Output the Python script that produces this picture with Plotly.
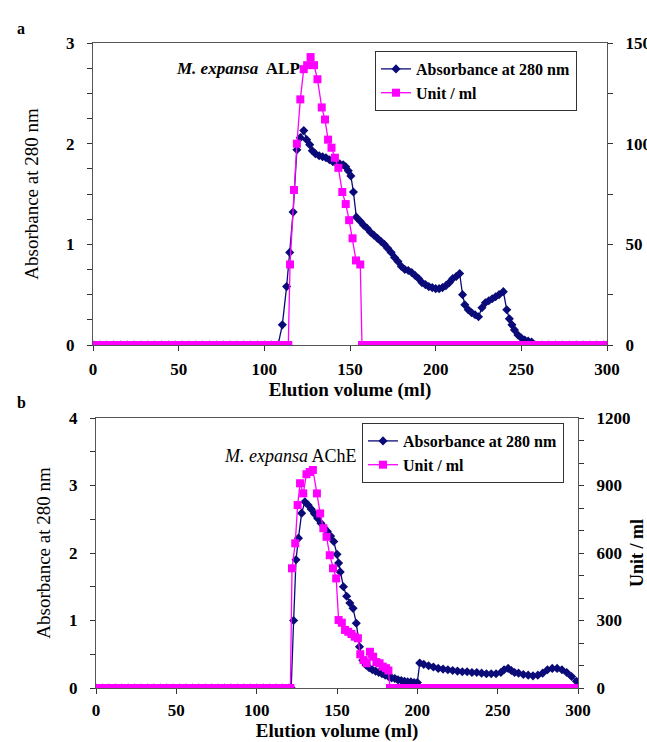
import plotly.graph_objects as go

# ---------------- Panel a: M. expansa ALP ----------------
alp_abs_ml = [0, 4, 8, 12, 16, 20, 24, 28, 32, 36, 40, 44, 48, 52, 56, 60, 64, 68, 72, 76,
              80, 84, 88, 92, 96, 100, 104, 108,
              110.5, 113, 114.8, 116.8, 119, 121, 123, 124.7, 126.5, 128, 129.8, 132, 134,
              136, 138, 140, 142, 144, 146, 147.5, 149, 150.5, 152, 153.7, 156, 158, 160,
              162, 164, 166, 168, 170, 172, 174, 176, 178, 180, 182, 184, 186, 188, 190,
              192, 194, 196, 198, 200, 202, 204, 206, 208, 210, 212, 214, 215.7, 217, 219,
              221, 223, 225, 227, 229, 231, 233, 235, 237, 239.5, 241.5, 243, 244.5, 246,
              248, 250, 252, 254, 256,
              258, 262, 266, 270, 274, 278, 282, 286, 290, 294, 298, 300]
alp_abs = [0, 0, 0, 0, 0, 0, 0, 0, 0, 0, 0, 0, 0, 0, 0, 0, 0, 0, 0, 0,
           0, 0, 0, 0, 0, 0, 0, 0,
           0.2, 0.58, 0.92, 1.32, 1.94, 2.06, 2.13, 2.04, 1.99, 1.93, 1.90, 1.88, 1.87,
           1.86, 1.84, 1.82, 1.81, 1.80, 1.79, 1.77, 1.73, 1.68, 1.52, 1.27, 1.23, 1.19, 1.16,
           1.12, 1.09, 1.06, 1.03, 1.00, 0.96, 0.92, 0.87, 0.83, 0.78, 0.75, 0.74, 0.72, 0.69, 0.66,
           0.62, 0.60, 0.58, 0.57, 0.56, 0.56, 0.57, 0.59, 0.62, 0.66, 0.68, 0.71, 0.50, 0.40, 0.35,
           0.32, 0.30, 0.28, 0.37, 0.42, 0.44, 0.46, 0.48, 0.50, 0.53, 0.35, 0.26, 0.20, 0.15,
           0.10, 0.07, 0.05, 0.04, 0.03,
           0, 0, 0, 0, 0, 0, 0, 0, 0, 0, 0, 0]

alp_unit_ml = [0, 4, 8, 12, 16, 20, 24, 28, 32, 36, 40, 44, 48, 52, 56, 60, 64, 68, 72, 76,
               80, 84, 88, 92, 96, 100, 104, 108, 112, 114,
               115, 117.3, 119, 121, 123, 125, 127, 129, 131, 133.5, 135.4, 137.2, 139.2,
               141.2, 143.2, 145.5, 147.5, 149.5, 151.5, 153.5, 156,
               157, 160, 164, 168, 172, 176, 180, 184, 188, 192, 196, 200, 204, 208, 212, 216,
               220, 224, 228, 232, 236, 240, 244, 248, 252, 256, 260, 264, 268, 272, 276, 280,
               284, 288, 292, 296, 300]
alp_unit = [0, 0, 0, 0, 0, 0, 0, 0, 0, 0, 0, 0, 0, 0, 0, 0, 0, 0, 0, 0,
            0, 0, 0, 0, 0, 0, 0, 0, 0, 0,
            40, 77, 100, 122, 137, 139, 143, 139, 132, 118, 112, 102, 98,
            93, 88, 76, 70, 62, 53, 42, 40,
            0, 0, 0, 0, 0, 0, 0, 0, 0, 0, 0, 0, 0, 0, 0, 0,
            0, 0, 0, 0, 0, 0, 0, 0, 0, 0, 0, 0, 0, 0, 0, 0,
            0, 0, 0, 0, 0]

# ---------------- Panel b: M. expansa AChE ----------------
ache_abs_ml = [0, 4, 8, 12, 16, 20, 24, 28, 32, 36, 40, 44, 48, 52, 56, 60, 64, 68, 72, 76,
               80, 84, 88, 92, 96, 100, 104, 108, 112, 116, 120, 121.5,
               123, 124.5, 126, 128, 130, 132, 134, 136, 138, 140, 142, 144, 146, 148, 150,
               151, 152, 154, 156, 158, 160, 162, 164, 166, 168, 170, 172, 174, 176, 178,
               180, 182, 184, 186, 188, 190, 192, 194, 196, 198, 200,
               201.5, 204, 207, 210, 213, 216, 219, 222, 225, 228, 231, 234, 237, 240, 243,
               246, 249, 252, 254, 256.5, 258.5, 260.5, 263, 266, 269, 272, 275, 278, 281,
               284, 287, 290, 293, 296, 299]
ache_abs = [0, 0, 0, 0, 0, 0, 0, 0, 0, 0, 0, 0, 0, 0, 0, 0, 0, 0, 0, 0,
            0, 0, 0, 0, 0, 0, 0, 0, 0, 0, 0, 0,
            1.0, 1.9, 2.22, 2.59, 2.76, 2.71, 2.65, 2.58, 2.51, 2.44, 2.37, 2.32, 2.25, 2.17, 1.98,
            1.85, 1.72, 1.50, 1.36, 1.26, 1.18, 0.96, 0.61, 0.41, 0.34, 0.30, 0.27, 0.25, 0.23, 0.21,
            0.19, 0.17, 0.15, 0.14, 0.12, 0.11, 0.10, 0.09, 0.09, 0.08, 0.08,
            0.37, 0.35, 0.33, 0.31, 0.29, 0.28, 0.27, 0.26, 0.25, 0.24, 0.24, 0.23, 0.23, 0.22, 0.21,
            0.21, 0.21, 0.23, 0.27, 0.29, 0.26, 0.23, 0.22, 0.20, 0.19, 0.18, 0.19, 0.22, 0.27,
            0.29, 0.29, 0.27, 0.23, 0.17, 0.10]

ache_unit_ml = [0, 4, 8, 12, 16, 20, 24, 28, 32, 36, 40, 44, 48, 52, 56, 60, 64, 68, 72, 76,
                80, 84, 88, 92, 96, 100, 104, 108, 112, 116, 120, 121,
                122, 124, 125.5, 127, 129, 131, 133, 135, 137.5, 139.5, 141.5, 143.5, 145.5,
                147.5, 149.5, 151, 153, 155, 157, 159, 161, 163, 164.5, 166.5, 168.5, 170.5,
                172.5, 174.5, 176.5, 178.5, 180.5, 182,
                183, 186, 190, 194, 198, 202, 206, 210, 214, 218, 222, 226, 230, 234, 238, 242,
                246, 250, 254, 258, 262, 266, 270, 274, 278, 282, 286, 290, 294, 298, 300]
ache_unit = [0, 0, 0, 0, 0, 0, 0, 0, 0, 0, 0, 0, 0, 0, 0, 0, 0, 0, 0, 0,
             0, 0, 0, 0, 0, 0, 0, 0, 0, 0, 0, 0,
             532, 643, 813, 910, 865, 950, 960, 969, 865, 776, 710, 672, 590,
             532, 487, 302, 290, 258, 250, 240, 228, 221, 150, 124, 110, 161,
             139, 115, 110, 95, 88, 78,
             0, 0, 0, 0, 0, 0, 0, 0, 0, 0, 0, 0, 0, 0, 0, 0,
             0, 0, 0, 0, 0, 0, 0, 0, 0, 0, 0, 0, 0, 0, 0]

x_ticks = [0, 50, 100, 150, 200, 250, 300]

NAVY = "#0a0a78"
MAGENTA = "#ff00ff"
FONT = "Liberation Serif"
W, H = 647, 742

fig = go.Figure()


def px_x(p):
    return p / W


def px_y(p):
    return 1 - p / H


panels = [
    dict(x="x", y="y", y2="y2", xi="x3", yi="y5", y2i="y6", legend="legend",
         box=(93, 607, 43, 345), lrange=3, ldt=1, lminor=0.25,
         rrange=150, rdt=50, rminor=25, rtitle="",
         abs_x=alp_abs_ml, abs_y=alp_abs, unit_x=alp_unit_ml, unit_y=alp_unit,
         ytitle_standoff=22, xtitle_standoff=0, xlabel_standoff=4),
    dict(x="x2", y="y3", y2="y4", xi="x4", yi="y7", y2i="y8", legend="legend2",
         box=(96, 578, 418, 688), lrange=4, ldt=1, lminor=0.5,
         rrange=1200, rdt=300, rminor=100, rtitle="<b>Unit / ml</b>",
         abs_x=ache_abs_ml, abs_y=ache_abs, unit_x=ache_unit_ml, unit_y=ache_unit,
         ytitle_standoff=13, xtitle_standoff=12, xlabel_standoff=2),
]


def axname(s):
    return ("xaxis" if s[0] == "x" else "yaxis") + s[1:]


tick_font = dict(family=FONT, size=17, color="black", weight="bold")

for p in panels:
    fig.add_trace(go.Scatter(
        x=p["abs_x"], y=p["abs_y"], xaxis=p["x"], yaxis=p["y"], legend=p["legend"],
        mode="lines+markers", name="Absorbance at 280 nm",
        line=dict(color=NAVY, width=1.3),
        marker=dict(symbol="diamond", size=7, color=NAVY),
    ))
    fig.add_trace(go.Scatter(
        x=p["unit_x"], y=p["unit_y"], xaxis=p["x"], yaxis=p["y2"], legend=p["legend"],
        mode="lines+markers", name="Unit / ml",
        line=dict(color=MAGENTA, width=1.3),
        marker=dict(symbol="square", size=8, color=MAGENTA),
    ))

    l, r, t, b = p["box"]
    xd = [px_x(l), px_x(r)]
    yd = [px_y(b), px_y(t)]
    common = dict(showgrid=False, zeroline=False, tickcolor="#333", linecolor="#555",
                  linewidth=1, automargin=False)

    fig.layout[axname(p["x"])] = dict(
        domain=xd, anchor=p["y"], range=[0, 300], tickvals=x_ticks,
        ticks="outside", ticklen=5, showline=True, mirror=True,
        tickfont=tick_font, ticklabelstandoff=p["xlabel_standoff"],
        title=dict(text="<b>Elution volume (ml)</b>",
                   font=dict(family=FONT, size=19, color="black"),
                   standoff=p["xtitle_standoff"]),
        **common)
    fig.layout[axname(p["xi"])] = dict(
        overlaying=p["x"], anchor=p["y"], range=[0, 300], tickvals=x_ticks,
        ticks="inside", ticklen=5, showticklabels=False, showline=False, **common)

    fig.layout[axname(p["y"])] = dict(
        domain=yd, anchor=p["x"], range=[0, p["lrange"]], dtick=p["ldt"], tick0=0,
        ticks="outside", ticklen=5, showline=True,
        minor=dict(dtick=p["lminor"], ticks="outside", ticklen=5, tickcolor="#333"),
        tickfont=tick_font, ticklabelstandoff=9,
        title=dict(text="Absorbance at 280 nm",
                   font=dict(family=FONT, size=19, color="black"),
                   standoff=p["ytitle_standoff"]),
        **common)
    fig.layout[axname(p["yi"])] = dict(
        overlaying=p["y"], anchor=p["x"], side="left",
        range=[0, p["lrange"]], dtick=p["ldt"], tick0=0,
        ticks="inside", ticklen=5, showticklabels=False, showline=False,
        minor=dict(dtick=p["lminor"], ticks="inside", ticklen=5, tickcolor="#333"),
        **common)

    fig.layout[axname(p["y2"])] = dict(
        overlaying=p["y"], anchor=p["x"], side="right",
        range=[0, p["rrange"]], dtick=p["rdt"], tick0=0,
        ticks="outside", ticklen=5, showline=True,
        minor=dict(dtick=p["rminor"], ticks="outside", ticklen=5, tickcolor="#333"),
        tickfont=tick_font, ticklabelstandoff=9,
        title=dict(text=p["rtitle"],
                   font=dict(family=FONT, size=18, color="black"), standoff=16),
        **common)
    fig.layout[axname(p["y2i"])] = dict(
        overlaying=p["y"], anchor=p["x"], side="right",
        range=[0, p["rrange"]], dtick=p["rdt"], tick0=0,
        ticks="inside", ticklen=5, showticklabels=False, showline=False,
        minor=dict(dtick=p["rminor"], ticks="inside", ticklen=5, tickcolor="#333"),
        **common)

legend_style = dict(
    xanchor="left", yanchor="top", bgcolor="white", bordercolor="#333", borderwidth=1,
    font=dict(family=FONT, size=16, color="black", weight="bold"),
    tracegroupgap=0, itemwidth=30,
)
fig.update_layout(
    legend=dict(x=px_x(375), y=px_y(51), **legend_style),
    legend2=dict(x=px_x(362), y=px_y(423), **legend_style),
)

fig.add_annotation(xref="paper", yref="paper", x=px_x(15), y=px_y(18),
                   text="<b>a</b>", showarrow=False,
                   font=dict(family=FONT, size=16, color="black"))
fig.add_annotation(xref="paper", yref="paper", x=px_x(15), y=px_y(402),
                   text="<b>b</b>", showarrow=False,
                   font=dict(family=FONT, size=16, color="black"))
fig.add_annotation(xref="paper", yref="paper", x=px_x(302), y=px_y(57), xanchor="right",
                   text="<b><i>M. expansa</i>  ALP</b>", showarrow=False,
                   font=dict(family=FONT, size=17, color="black"))
fig.add_annotation(xref="paper", yref="paper", x=px_x(359), y=px_y(456), xanchor="right",
                   text="<i>M. expansa</i> AChE", showarrow=False,
                   font=dict(family=FONT, size=18, color="black"))

fig.update_layout(
    width=W, height=H,
    margin=dict(l=0, r=0, t=0, b=0, autoexpand=False),
    paper_bgcolor="white", plot_bgcolor="white",
    font=dict(family=FONT, color="black"),
    showlegend=True,
)

fig.write_html("out.html")
